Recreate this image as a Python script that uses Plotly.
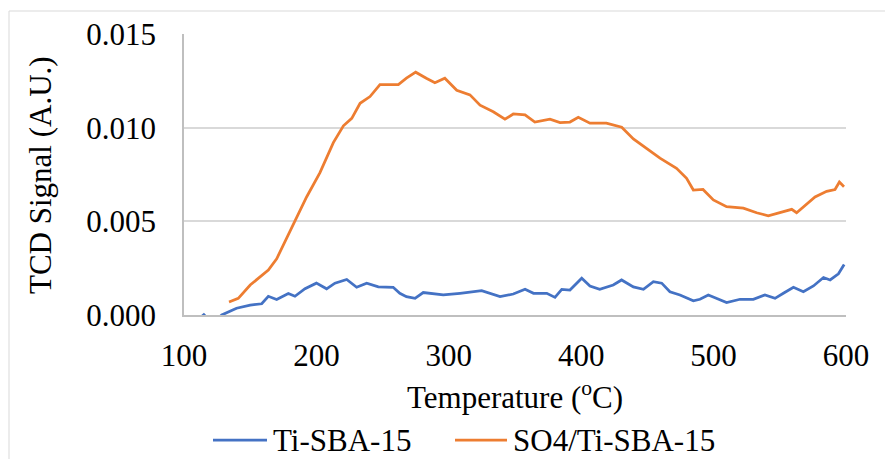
import plotly.graph_objects as go

# ---- data ----
so4_T = [134, 141, 150, 163.7, 170, 180, 192.6, 202.7, 212.8, 220.4, 226.7, 233, 240.5, 248, 261.9,
         268, 275, 283, 289.5, 297, 306, 316, 323.6, 333.6, 342.4, 348.7, 357.6, 365, 376.4, 384,
         391.5, 397.8, 406.6, 419, 430.6, 439.4, 449.4, 459.5, 472, 479.6, 484.7, 492, 499.8, 509.8,
         522.5, 532.5, 541.3, 550, 559, 562.7, 570, 576.6, 585.4, 591.7, 595, 598.5]
so4_v = [0.00069, 0.00089, 0.0016, 0.0024, 0.0030, 0.0045, 0.0063, 0.0076, 0.0092, 0.0101, 0.0105,
         0.0113, 0.01166, 0.0123, 0.0123, 0.01264, 0.01296, 0.01264, 0.0124, 0.01264, 0.0120, 0.01175,
         0.0112, 0.01085, 0.01045, 0.01073, 0.01068, 0.0103, 0.01045, 0.01027, 0.0103, 0.01055,
         0.01024, 0.01024, 0.01002, 0.0094, 0.0089, 0.00837, 0.00783, 0.0073, 0.00667, 0.0067,
         0.00614, 0.00578, 0.0057, 0.00546, 0.0053, 0.00546, 0.00564, 0.00546, 0.0059, 0.0063,
         0.0066, 0.0067, 0.0071, 0.00685]

ti_T = [113, 115, 118, 124, 128.5, 139.7, 150, 158.7, 163.7, 170, 178.8, 183.8, 191.4, 200, 207.7,
        214, 222.9, 230.4, 238, 246.8, 258, 263, 268, 274.5, 280.7, 295.8, 308.5, 324.8, 338.7,
        348.7, 357.6, 364, 374, 380.2, 385.3, 391.5, 400.4, 406.6, 414, 424.2, 430.5, 439.4, 447,
        454.5, 460.8, 467, 474.6, 484.7, 489.7, 496, 502, 509.8, 520, 530, 538.8, 546.4, 552.7,
        560.3, 567.8, 575.4, 583, 588, 594.3, 598.6]
ti_v = [-0.0001, 0.00002, -0.0002, -0.0003, 0.0, 0.00036, 0.00053, 0.0006, 0.001, 0.00083, 0.00115,
        0.001, 0.0014, 0.0017, 0.0014, 0.0017, 0.0019, 0.00148, 0.0017, 0.0015, 0.00148, 0.00116,
        0.00098, 0.00089, 0.0012, 0.00107, 0.00116, 0.0013, 0.00098, 0.00112, 0.00137, 0.00116,
        0.00116, 0.00094, 0.00137, 0.00133, 0.00196, 0.00155, 0.00137, 0.0016, 0.00187, 0.0015,
        0.00137, 0.00178, 0.0017, 0.00124, 0.00107, 0.00076, 0.00084, 0.00107, 0.00089, 0.00066,
        0.00084, 0.00084, 0.00107, 0.00089, 0.00116, 0.00148, 0.00124, 0.00155, 0.002, 0.00187,
        0.0022, 0.0027]

series_names = ["Ti-SBA-15", "SO4/Ti-SBA-15"]
colors = ["#4472C4", "#ED7D31"]
x_ticks = [100, 200, 300, 400, 500, 600]
y_ticks = [0.0, 0.005, 0.010, 0.015]

FONT = "'Times New Roman', 'Liberation Serif', 'DejaVu Serif', serif"
FS = 31
W, H = 885, 459
L, R, T, B = 184, 39, 34, 144
PW, PH = W - L - R, H - T - B


def px(x):
    return (x - L) / PW


def py(y):
    return (H - B - y) / PH


fig = go.Figure()
fig.add_trace(go.Scatter(x=ti_T, y=ti_v, mode="lines", name=series_names[0],
                         line=dict(color=colors[0], width=2.75), showlegend=False))
fig.add_trace(go.Scatter(x=so4_T, y=so4_v, mode="lines", name=series_names[1],
                         line=dict(color=colors[1], width=2.75), showlegend=False))

shapes = [
    # outer chart frame
    dict(type="rect", xref="paper", yref="paper", x0=px(9), x1=px(895), y0=py(11), y1=py(470),
         line=dict(color="#d9d9d9", width=1), layer="below"),
    # legend lines
    dict(type="line", xref="paper", yref="paper", x0=px(213), x1=px(267), y0=py(440), y1=py(440),
         line=dict(color=colors[0], width=2.75)),
    dict(type="line", xref="paper", yref="paper", x0=px(455), x1=px(507), y0=py(440), y1=py(440),
         line=dict(color=colors[1], width=2.75)),
]

annotations = [
    dict(text="Temperature (<sup>o</sup>C)", xref="paper", yref="paper", x=px(515), y=py(395),
         xanchor="center", yanchor="middle", showarrow=False, font=dict(family=FONT, size=FS)),
    dict(text="TCD Signal (A.U.)", xref="paper", yref="paper", x=px(40), y=py(175), textangle=-90,
         xanchor="center", yanchor="middle", showarrow=False, font=dict(family=FONT, size=FS)),
    dict(text=series_names[0], xref="paper", yref="paper", x=px(271), y=py(440),
         xanchor="left", yanchor="middle", showarrow=False, font=dict(family=FONT, size=FS)),
    dict(text=series_names[1], xref="paper", yref="paper", x=px(511), y=py(440),
         xanchor="left", yanchor="middle", showarrow=False, font=dict(family=FONT, size=FS)),
]

fig.update_layout(
    width=W, height=H,
    margin=dict(l=L, r=R, t=T, b=B, autoexpand=False),
    paper_bgcolor="white", plot_bgcolor="white",
    font=dict(family=FONT, size=FS, color="black"),
    shapes=shapes, annotations=annotations,
    showlegend=False,
)
fig.update_xaxes(range=[100, 600], tickvals=x_ticks, ticktext=[str(v) for v in x_ticks],
                 tickfont=dict(family=FONT, size=FS),
                 showgrid=False, showline=True, linecolor="#bfbfbf", linewidth=1.5,
                 ticks="", zeroline=False, ticklabelstandoff=12, automargin=False)
fig.update_yaxes(range=[0, 0.015], tickvals=y_ticks, ticktext=[f"{v:.3f}" for v in y_ticks],
                 tickfont=dict(family=FONT, size=FS),
                 showgrid=True, gridcolor="#d9d9d9", gridwidth=1.5, showline=True,
                 linecolor="#bfbfbf", linewidth=1.5, ticks="", zeroline=False,
                 ticklabelstandoff=20, automargin=False)

fig.write_html("out.html")
